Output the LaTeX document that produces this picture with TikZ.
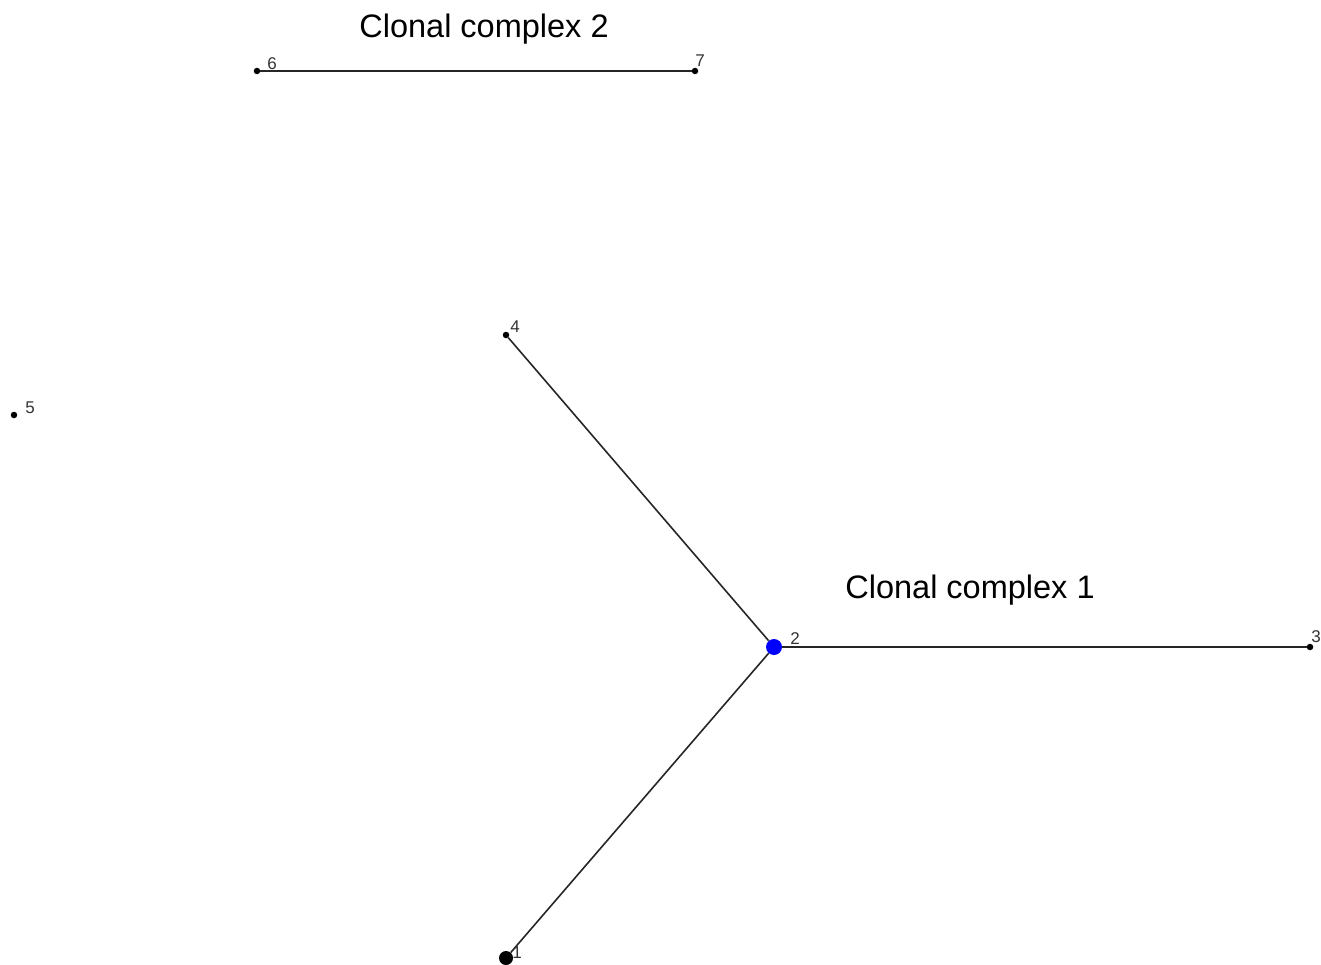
\documentclass[tikz,border=0pt]{standalone}
\usepackage{fontspec}
\setmainfont{Liberation Sans}
\begin{document}
\begin{tikzpicture}[x=1pt,y=-1pt,
  dot/.style={circle,fill=black,inner sep=0pt,minimum size=6.5pt},
  bigdot/.style={circle,fill=black,inner sep=0pt,minimum size=14pt},
  hub/.style={circle,fill=blue,inner sep=0pt,minimum size=16pt},
  lbl/.style={font=\fontsize{17}{17}\selectfont,text=black!80,inner sep=0pt},
  title/.style={font=\fontsize{32.5}{32.5}\selectfont,inner sep=0pt},
  edge/.style={draw=black!85,line width=1.6pt}]
\useasboundingbox (0,0) rectangle (1321,965);
\node[dot] (n6) at (257,71) {};
\node[dot] (n7) at (695,71) {};
\node[dot] (n4) at (506,335) {};
\node[dot] (n5) at (14,415) {};
\node[hub] (n2) at (774,647) {};
\node[dot] (n3) at (1310,647) {};
\node[bigdot] (n1) at (506,958) {};
\draw[edge] (n6) -- (n7);
\draw[edge] (n4) -- (n2);
\draw[edge] (n2) -- (n3);
\draw[edge] (n2) -- (n1);
\node[lbl] (l6) at (272,64) {6};
\node[lbl] (l7) at (700,61) {7};
\node[lbl] (l4) at (515,327) {4};
\node[lbl] (l5) at (30,408) {5};
\node[lbl] (l2) at (795,639) {2};
\node[lbl] (l3) at (1316,637) {3};
\node[lbl] (l1) at (517,953) {1};
\node[title] (t2) at (484,29) {Clonal complex 2};
\node[title] (t1) at (970,590) {Clonal complex 1};
\end{tikzpicture}
\end{document}
